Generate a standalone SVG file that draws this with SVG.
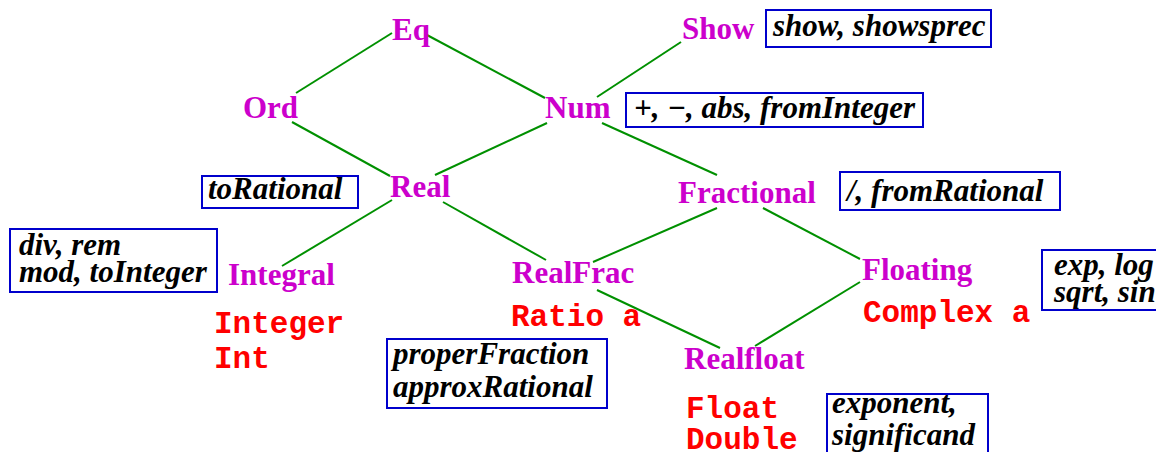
<svg xmlns="http://www.w3.org/2000/svg" width="1156" height="452" viewBox="0 0 1156 452">
<style>
.cls{font-family:"Liberation Serif","Times New Roman",serif;font-weight:bold;font-size:31px;fill:#cc00cc}
.typ{font-family:"Liberation Mono","Courier New",monospace;font-weight:bold;font-size:31px;fill:#ff0000}
.op{font-family:"Liberation Serif","Times New Roman",serif;font-weight:bold;font-style:italic;font-size:31px;fill:#000}
.box{fill:none;stroke:#0000cc;stroke-width:2}
.edge{stroke:#009000;stroke-width:2;fill:none}
</style>
<rect width="1156" height="452" fill="#fff"/>
<g id="connectors">
<line class="edge" x1="296" y1="93" x2="392" y2="33"/>
<line class="edge" x1="427" y1="35" x2="545" y2="98"/>
<line class="edge" x1="292" y1="122" x2="390" y2="176"/>
<line class="edge" x1="547" y1="123" x2="435" y2="175"/>
<line class="edge" x1="681" y1="42" x2="597" y2="97"/>
<line class="edge" x1="602" y1="123" x2="717" y2="175"/>
<line class="edge" x1="392" y1="200" x2="282" y2="266"/>
<line class="edge" x1="443" y1="202" x2="546" y2="260"/>
<line class="edge" x1="717" y1="208" x2="593" y2="262"/>
<line class="edge" x1="763" y1="208" x2="860" y2="259"/>
<line class="edge" x1="597" y1="290" x2="720" y2="348"/>
<line class="edge" x1="860" y1="282" x2="755" y2="346"/>
</g>
<g id="Eq"><text class="cls" x="392" y="40">Eq</text></g>
<g id="Show"><text class="cls" x="682" y="39">Show</text>
<rect class="box" x="766" y="10" width="225" height="37"/><text class="op" x="773" y="36">show, showsprec</text></g>
<g id="Ord"><text class="cls" x="243" y="118">Ord</text></g>
<g id="Num"><text class="cls" x="545" y="118">Num</text>
<rect class="box" x="626" y="93" width="297" height="34"/><text class="op" x="634" y="118">+, −, abs, fromInteger</text></g>
<g id="Real"><text class="cls" x="390" y="197">Real</text>
<rect class="box" x="202" y="176" width="156" height="32"/><text class="op" x="208" y="199">toRational</text></g>
<g id="Fractional"><text class="cls" x="678" y="203">Fractional</text>
<rect class="box" x="840" y="172" width="220" height="38"/><text class="op" x="847" y="201">/, fromRational</text></g>
<g id="Integral"><text class="cls" x="228" y="285">Integral</text>
<rect class="box" x="10" y="229" width="207" height="63"/>
<text class="op" x="19" y="255">div, rem</text><text class="op" x="19" y="282">mod, toInteger</text>
<text class="typ" x="214" y="333">Integer</text><text class="typ" x="214" y="368">Int</text></g>
<g id="RealFrac"><text class="cls" x="512" y="283">RealFrac</text>
<text class="typ" x="511" y="326">Ratio a</text>
<rect class="box" x="387" y="339" width="220" height="69"/>
<text class="op" x="393" y="364">properFraction</text><text class="op" x="393" y="397">approxRational</text></g>
<g id="Floating"><text class="cls" x="862" y="280">Floating</text>
<text class="typ" x="863" y="322">Complex a</text>
<rect class="box" x="1042" y="250" width="130" height="60"/>
<text class="op" x="1054" y="275">exp, log</text><text class="op" x="1054" y="302">sqrt, sin</text></g>
<g id="Realfloat"><text class="cls" x="684" y="369">Realfloat</text>
<text class="typ" x="686" y="418">Float</text><text class="typ" x="686" y="449">Double</text>
<rect class="box" x="827" y="394" width="161" height="70"/>
<text class="op" x="832" y="413">exponent,</text><text class="op" x="832" y="445">significand</text></g>
</svg>
